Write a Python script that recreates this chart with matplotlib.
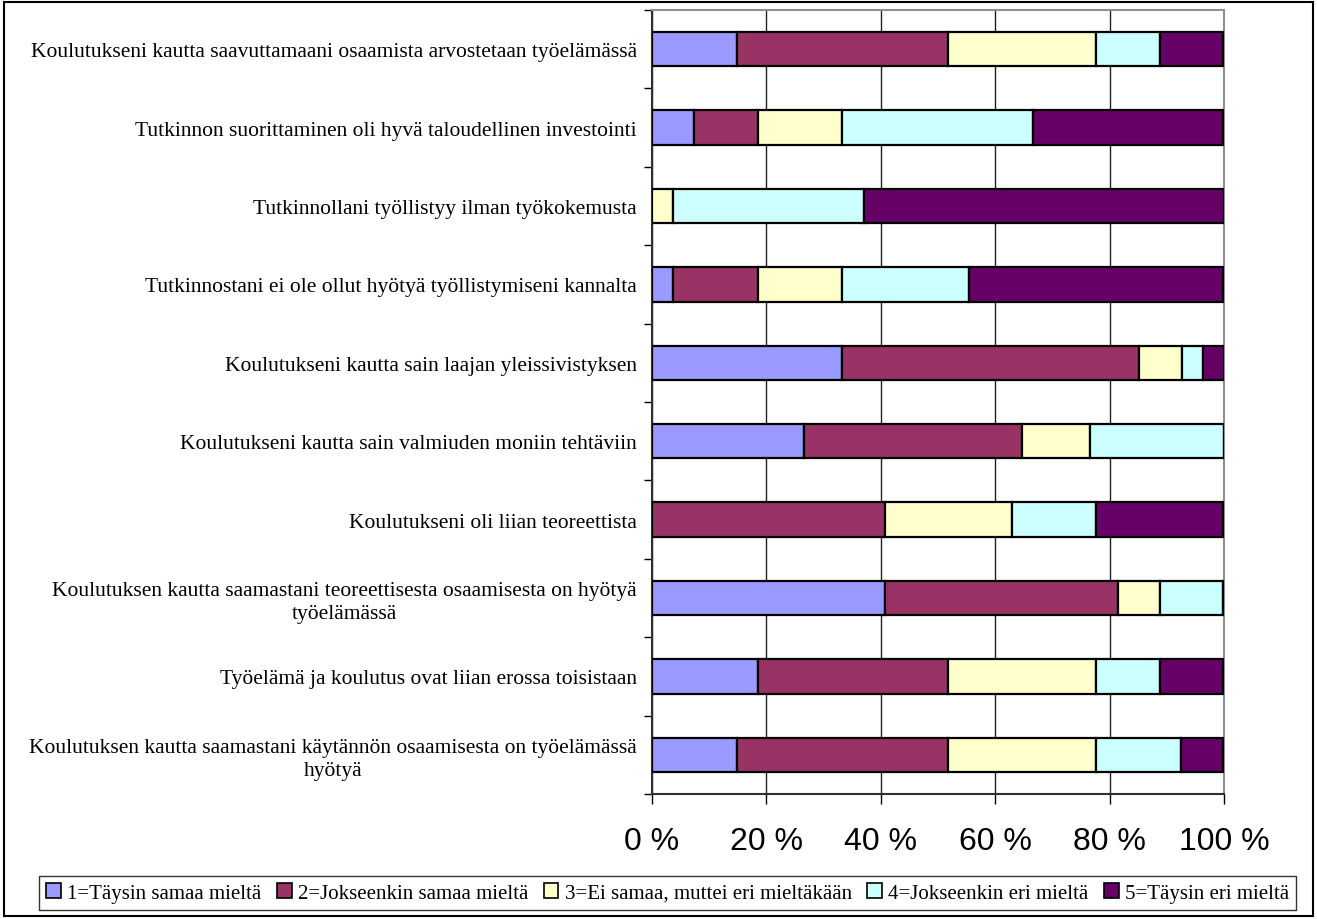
import matplotlib.pyplot as plt
from matplotlib.patches import Patch, Rectangle
import numpy as np

# kysymykset ylhäältä alas
kysymykset = [
    "Koulutukseni kautta saavuttamaani osaamista arvostetaan työelämässä",
    "Tutkinnon suorittaminen oli hyvä taloudellinen investointi",
    "Tutkinnollani työllistyy ilman työkokemusta",
    "Tutkinnostani ei ole ollut hyötyä työllistymiseni kannalta",
    "Koulutukseni kautta sain laajan yleissivistyksen",
    "Koulutukseni kautta sain valmiuden moniin tehtäviin",
    "Koulutukseni oli liian teoreettista",
    "Koulutuksen kautta saamastani teoreettisesta osaamisesta on hyötyä\ntyöelämässä",
    "Työelämä ja koulutus ovat liian erossa toisistaan",
    "Koulutuksen kautta saamastani käytännön osaamisesta on työelämässä\nhyötyä",
]

vastaukset = ["1=Täysin samaa mieltä", "2=Jokseenkin samaa mieltä",
              "3=Ei samaa, muttei eri mieltäkään", "4=Jokseenkin eri mieltä",
              "5=Täysin eri mieltä"]

# osuudet (%)
taysin_samaa = [14.8, 7.4, 0.0, 3.7, 33.3, 26.5, 0.0, 40.7, 18.5, 14.8]
jokseenkin_samaa = [37.0, 11.1, 0.0, 14.8, 51.9, 38.2, 40.7, 40.7, 33.3, 37.0]
ei_samaa_eri = [25.9, 14.8, 3.7, 14.8, 7.4, 11.8, 22.2, 7.4, 25.9, 25.9]
jokseenkin_eri = [11.1, 33.3, 33.3, 22.2, 3.7, 23.5, 14.8, 11.1, 11.1, 14.8]
taysin_eri = [11.1, 33.3, 63.0, 44.4, 3.7, 0.0, 22.2, 0.0, 11.1, 7.4]

sarjat = [taysin_samaa, jokseenkin_samaa, ei_samaa_eri, jokseenkin_eri, taysin_eri]
varit = ["#9999FF", "#993366", "#FFFFCC", "#CCFFFF", "#660066"]

fig = plt.figure(figsize=(13.17, 9.2), dpi=100)
ax = fig.add_axes([652 / 1317, 1 - 795 / 920, 572 / 1317, 784 / 920])

y = np.arange(len(kysymykset))
vasen = np.zeros(len(kysymykset))
for arvot, vari in zip(sarjat, varit):
    arvot = np.array(arvot)
    ax.barh(y, arvot, left=vasen, height=0.44, color=vari,
            edgecolor="black", linewidth=1.6, zorder=3)
    vasen += arvot

ax.set_xlim(0, 100)
ax.set_ylim(len(kysymykset) - 0.5, -0.5)

ax.set_xticks([0, 20, 40, 60, 80, 100])
ax.set_xticklabels(["0 %", "20 %", "40 %", "60 %", "80 %", "100 %"],
                   family="Liberation Sans", fontsize=23)
ax.tick_params(axis="x", direction="out", length=7, width=1, pad=16)

ax.set_yticks(y)
ax.set_yticklabels(kysymykset, family="Liberation Serif", fontsize=15.5,
                   multialignment="center", linespacing=1.25)
ax.tick_params(axis="y", which="major", length=0, pad=11)
ax.set_yticks(np.arange(len(kysymykset) + 1) - 0.5, minor=True)
ax.tick_params(axis="y", which="minor", direction="out", length=6, width=1)

ax.grid(axis="x", color="#202020", linewidth=1, zorder=0)

ax.spines["left"].set_color("#303030")
ax.spines["bottom"].set_color("#303030")
ax.spines["top"].set_color("#909090")
ax.spines["right"].set_color("#909090")
for s in ax.spines.values():
    s.set_linewidth(1.5)

kahvat = [Patch(facecolor=v, edgecolor="black", linewidth=1.2) for v in varit]
leg = fig.legend(kahvat, vastaukset, loc="center", bbox_to_anchor=(0.507, 0.028),
                 ncol=5, frameon=True, fancybox=False, edgecolor="black",
                 prop={"family": "Liberation Serif", "size": 15},
                 handlelength=0.7, handleheight=0.7, handletextpad=0.3,
                 columnspacing=0.75, borderpad=0.35, borderaxespad=0)
leg.get_frame().set_linewidth(1)

# kaavion reunaviiva
fig.patches.append(Rectangle((0.003, 0.003), 0.994, 0.994, transform=fig.transFigure,
                             fill=False, edgecolor="black", linewidth=1.5))

plt.savefig("out.png", dpi=100)
